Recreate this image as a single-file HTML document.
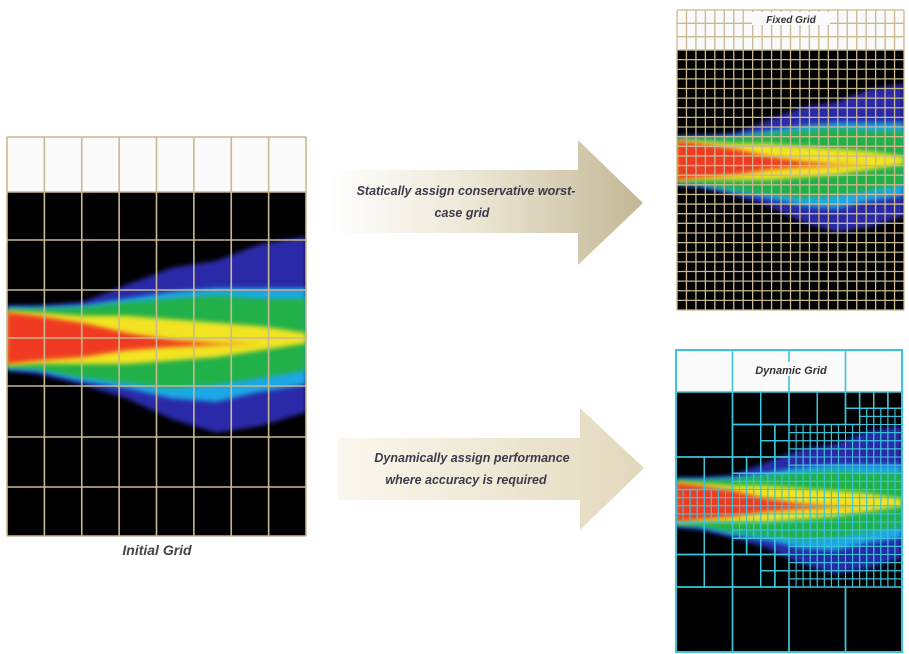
<!DOCTYPE html>
<html><head><meta charset="utf-8"><style>
html,body{margin:0;padding:0;background:#fff;}
svg{display:block;}
text{font-family:"Liberation Sans",sans-serif;font-style:italic;font-weight:bold;}
</style></head><body>
<svg id="s" width="909" height="654" viewBox="0 0 909 654" xmlns="http://www.w3.org/2000/svg">
<defs>
<linearGradient id="ag" x1="0" x2="1" y1="0" y2="0"><stop offset="0" stop-color="#ffffff"/><stop offset="0.45" stop-color="#ede7d6"/><stop offset="1" stop-color="#c2b795"/></linearGradient>
<linearGradient id="ag2" x1="0" x2="1" y1="0" y2="0"><stop offset="0" stop-color="#fbf8ef"/><stop offset="1" stop-color="#e2d8bc"/></linearGradient>
<filter id="bl" x="-5%" y="-20%" width="110%" height="140%"><feGaussianBlur stdDeviation="2.5"/></filter>
</defs>
<path d="M330,170 L578,170 L578,140 L643,203 L578,265 L578,233 L330,233 Z" fill="url(#ag)"/>
<text x="466" y="195" font-size="12.5" fill="#3a3a4a" text-anchor="middle">Statically assign conservative worst-</text>
<text x="462" y="217" font-size="12.5" fill="#3a3a4a" text-anchor="middle">case grid</text>
<path d="M338,438 L580,438 L580,408 L644,468 L580,530 L580,500 L338,500 Z" fill="url(#ag2)"/>
<text x="472" y="462" font-size="12.5" fill="#3a3a4a" text-anchor="middle">Dynamically assign performance</text>
<text x="466" y="484" font-size="12.5" fill="#3a3a4a" text-anchor="middle">where accuracy is required</text>
<text x="157" y="555" font-size="14" fill="#444" text-anchor="middle">Initial Grid</text>
<g id="panels"></g>
</svg>
<script>
// plume profile (fractions of panel width / black-area height)
const stations=[0,0.1,0.25,0.4,0.55,0.7,0.85,1];
const blueTop=[0.33,0.33,0.32,0.27,0.22,0.2,0.15,0.13];
const blueBot=[0.52,0.53,0.56,0.6,0.66,0.7,0.68,0.64];
const cyanTop=[0.335,0.335,0.33,0.31,0.29,0.28,0.28,0.28];
const cyanBot=[0.515,0.52,0.55,0.57,0.6,0.61,0.58,0.56];
const greenTop=[0.34,0.34,0.335,0.32,0.31,0.3,0.31,0.31];
const greenBot=[0.51,0.515,0.54,0.555,0.57,0.56,0.54,0.52];
const yellowTop=[0.345,0.35,0.36,0.36,0.37,0.38,0.39,0.41];
const yellowBot=[0.505,0.5,0.5,0.5,0.49,0.48,0.46,0.44];
const redTop=[0.35,0.36,0.38,0.41,0.43,0.44,0.44,0.44];
const redBot=[0.5,0.49,0.48,0.46,0.45,0.445,0.44,0.44];
const layers=[[blueTop,blueBot,'#2b2ba8'],[cyanTop,cyanBot,'#1ea8e6'],[greenTop,greenBot,'#22b04a'],[yellowTop,yellowBot,'#f2e424'],[redTop,redBot,'#f03a22']];
const NS='http://www.w3.org/2000/svg';
const root=document.getElementById('panels');
function mk(tag,attrs,parent){const e=document.createElementNS(NS,tag);for(const k in attrs)e.setAttribute(k,attrs[k]);(parent||root).appendChild(e);return e;}
function plume(g,x,y,w,h){
  layers.forEach(([t,b,c])=>{
    let d='';
    stations.forEach((u,i)=>{d+=(i?'L':'M')+(x+u*w).toFixed(1)+','+(y+t[i]*h).toFixed(1);});
    for(let i=stations.length-1;i>=0;i--)d+='L'+(x+stations[i]*w).toFixed(1)+','+(y+b[i]*h).toFixed(1);
    const p=mk('path',{d:d+'Z',fill:c,filter:'url(#bl)'},g);
    
    
  });
}
function panel(name,x,yTop,yBlack,w,yEnd){
  const g=mk('g',{});
  
  
  mk('rect',{x:x,y:yTop,width:w,height:yBlack-yTop,fill:'#fafafa'},g);
  mk('rect',{x:x,y:yBlack,width:w,height:yEnd-yBlack,fill:'#000'},g);
  const cg=mk('g',{},g);
  const cp=mk('clipPath',{id:name+'-clip'},g);
  mk('rect',{x:x,y:yBlack,width:w,height:yEnd-yBlack},cp);
  cg.setAttribute('clip-path','url(#'+name+'-clip)');
  plume(cg,x,yBlack,w,yEnd-yBlack);
  return g;
}
function line(g,x1,y1,x2,y2,c,sw){mk('line',{x1,y1,x2,y2,stroke:c,'stroke-width':sw},g);}
const tan='#c8b990';
let g1=panel('initial-grid-panel',7,137,192,299,536);
for(let i=0;i<=8;i++){const x=7+i*299/8;line(g1,x,137,x,536,tan,1.6);}
[137,192,240,290,338,386,437,487,536].forEach(y=>line(g1,7,y,306,y,tan,1.6));
let g2=panel('fixed-grid-panel',677,10,50,227,310);
for(let i=0;i<=24;i++){const x=677+i*227/24;line(g2,x,10,x,310,tan,1.3);}
for(let i=0;i<=3;i++)line(g2,677,10+i*40/3,904,10+i*40/3,tan,1.3);
for(let i=0;i<=27;i++)line(g2,677,50+i*260/27,904,50+i*260/27,tan,1.3);
mk('rect',{x:752,y:12,width:78,height:13,fill:'#fafafa'},g2);
let t2=mk('text',{x:791,y:23,'font-size':10,fill:'#333','text-anchor':'middle'},g2);t2.textContent='Fixed Grid';


const cy='#3cc4dc';
let g3=panel('dynamic-grid-panel',676,350,392,226,652);
const X0=676,Y0=392,W=226,H=260;
function need(u0,u1,v0,v1){
  let m=false;
  stations.forEach((u,i)=>{if(u>=u0-0.15&&u<=u1+0.15){if(v1>blueTop[i]-0.02&&v0<blueBot[i]+0.02)m=true;}});
  return m;
}
function quad(u0,v0,du,dv,depth){
  if(depth<3&&need(u0,u0+du,v0,v0+dv)&&(depth<1||u0+du/2>0.25*depth||Math.abs(v0+dv/2-0.44)<0.1)){
    for(let a=0;a<2;a++)for(let b=0;b<2;b++)quad(u0+a*du/2,v0+b*dv/2,du/2,dv/2,depth+1);
  } else {
    mk('rect',{x:X0+u0*W,y:Y0+v0*H,width:du*W,height:dv*H,fill:'none',stroke:cy,'stroke-width':depth>2?1:1.5},g3);
  }
}
for(let i=0;i<4;i++)for(let j=0;j<4;j++)quad(i/4,j/4,1/4,1/4,0);
for(let i=0;i<=4;i++){line(g3,X0+i*W/4,350,X0+i*W/4,392,cy,1.6);}
mk('rect',{x:676,y:350,width:226,height:302,fill:'none',stroke:cy,'stroke-width':2},g3);
mk('rect',{x:745,y:362,width:95,height:14,fill:'#fafafa'},g3);
let t3=mk('text',{x:791,y:374,'font-size':11,fill:'#333','text-anchor':'middle'},g3);t3.textContent='Dynamic Grid';


</script>
</body></html>
